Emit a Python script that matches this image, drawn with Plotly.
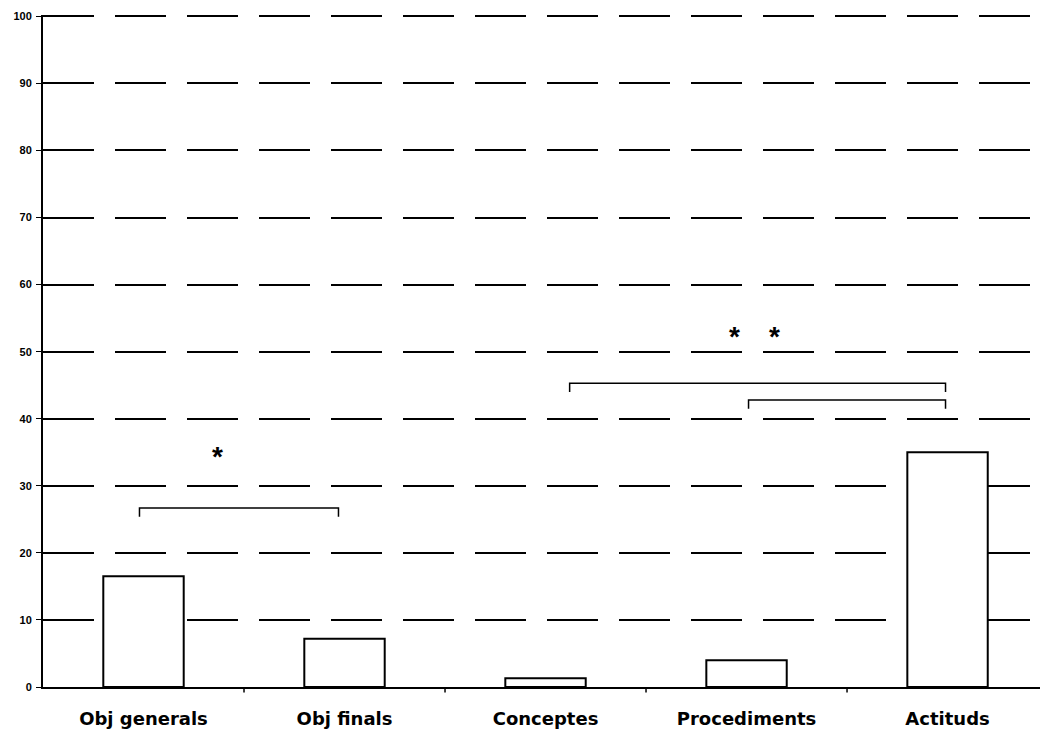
import plotly.graph_objects as go

categories = ["Obj generals", "Obj finals", "Conceptes", "Procediments", "Actituds"]
values = [16.5, 7.2, 1.3, 4.0, 35.0]

y_ticks = [0, 10, 20, 30, 40, 50, 60, 70, 80, 90, 100]

# significance brackets: (x start, x end, y level)
bracket_x0 = [-0.02, 2.12, 3.01]
bracket_x1 = [0.97, 3.99, 3.99]
bracket_y = [26.7, 45.3, 42.8]
bracket_drop = 1.3

star_x = [0.37, 2.94, 3.14]
star_y = [34.4, 52.3, 52.3]

fig = go.Figure()
fig.add_trace(go.Bar(
    x=list(range(len(categories))), y=values, width=0.4,
    marker=dict(color="white", line=dict(color="black", width=2)),
    showlegend=False,
))

for x0, x1, yb in zip(bracket_x0, bracket_x1, bracket_y):
    fig.add_trace(go.Scatter(
        x=[x0, x0, x1, x1], y=[yb - bracket_drop, yb, yb, yb - bracket_drop],
        mode="lines", line=dict(color="black", width=1.5), showlegend=False,
        hoverinfo="skip",
    ))

for sx, sy in zip(star_x, star_y):
    fig.add_annotation(x=sx, y=sy, text="<b>*</b>", showarrow=False,
                       font=dict(family="Liberation Sans", size=28, color="black"),
                       xanchor="center", yanchor="middle")

fig.update_layout(
    width=1042, height=731,
    margin=dict(l=43, r=2, t=15, b=44),
    plot_bgcolor="white", paper_bgcolor="white",
    bargap=0.6,
    xaxis=dict(
        range=[-0.5, 4.46],
        tickmode="array", tickvals=list(range(len(categories))), ticktext=categories,
        showgrid=False, zeroline=False,
        showline=True, linecolor="black", linewidth=2,
        ticks="",
        tickfont=dict(family="DejaVu Sans", size=18, color="black", weight="bold"),
        ticklabelstandoff=14,
    ),
    yaxis=dict(
        range=[0, 100.2],
        tickmode="array", tickvals=y_ticks,
        showgrid=True, gridcolor="black", gridwidth=1.6, griddash="51px,21px",
        zeroline=False,
        showline=True, linecolor="black", linewidth=2,
        ticks="outside", ticklen=5, tickcolor="black", tickwidth=1,
        tickfont=dict(family="Liberation Sans", size=11, color="black", weight="bold"),
        ticklabelstandoff=2,
    ),
)

# small boundary tick marks on the x axis
for b in [0.5, 1.5, 2.5, 3.5]:
    fig.add_shape(type="line", xref="x", yref="paper", x0=b, x1=b, y0=0, y1=-0.008,
                  line=dict(color="black", width=1.5))

fig.write_html("out.html", config={"displayModeBar": False},
               post_script="document.body.style.margin='0';")
